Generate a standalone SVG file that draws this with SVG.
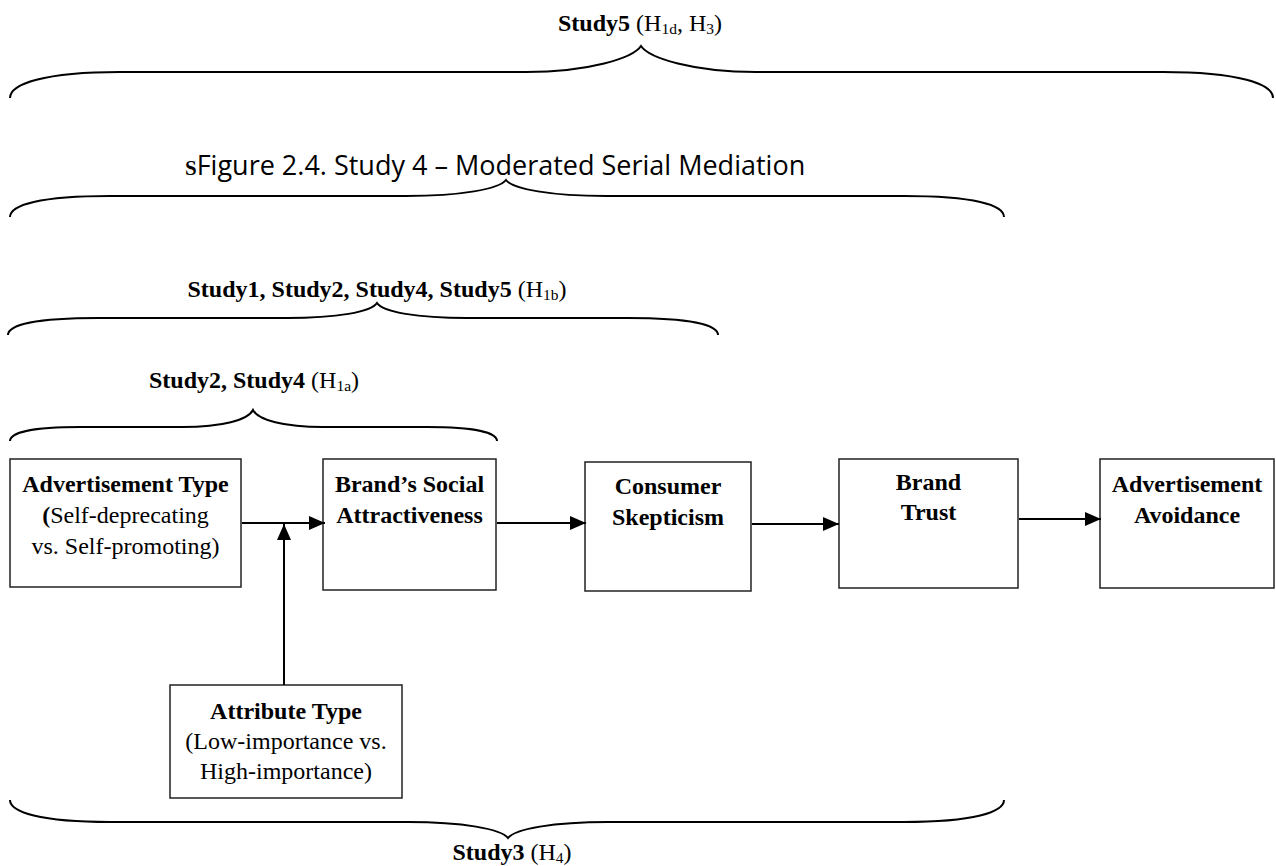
<svg xmlns="http://www.w3.org/2000/svg" width="1276" height="866" viewBox="0 0 1276 866">
<style>
  .t { font-family: "Liberation Serif", "Times New Roman", serif; font-size: 24px; fill: #000; }
  .b { font-weight: bold; }
  .c { text-anchor: middle; }
  .sub { font-size: 15.5px; }
  .box { fill: #fff; stroke: #222; stroke-width: 1.5; }
  .brace { fill: none; stroke: #000; stroke-width: 2; }
  .arr { fill: none; stroke: #000; stroke-width: 2; marker-end: url(#ah); }
  .cap { font-family: "Open Sans", "Noto Sans", sans-serif; font-size: 27px; fill: #000; }
</style>
<defs>
  <marker id="ah" markerUnits="userSpaceOnUse" markerWidth="16" markerHeight="14" refX="16" refY="7" orient="auto">
    <path d="M0,0 L16,7 L0,14 z" fill="#000"/>
  </marker>
</defs>
<rect width="1276" height="866" fill="#fff"/>

<g id="braces">
  <path class="brace" d="M10,98 C10,84 44,72 120,72 L526,72 C589,72 633,58 641,46 C649,58 693,72 756,72 L1163,72 C1239,72 1273,84 1273,98"/>
  <path class="brace" d="M10,217 C10,205 40,196 110,196 L406,196 C461,196 499,189 506,180 C513,189 551,196 606,196 L904,196 C974,196 1004,205 1004,217"/>
  <path class="brace" d="M8,335 C8,325 35,318 98,318 L287,318 C337,318 371,312 377,303 C383,312 417,318 467,318 L628,318 C691,318 718,325 718,335"/>
  <path class="brace" d="M10,441 C10,433 31,427 80,427 L183,427 C222,427 248,420 253,410 C258,420 284,427 323,427 L427,427 C476,427 497,433 497,441"/>
  <path class="brace" d="M10,800 C10,812 40,822 110,822 L408,822 C463,822 501,829 508,838 C515,829 553,822 608,822 L904,822 C974,822 1004,812 1004,800"/>
</g>

<g id="labels">
  <text class="t c" x="640" y="31"><tspan class="b">Study5</tspan> (H<tspan class="sub" dy="3">1d</tspan><tspan dy="-3">, H</tspan><tspan class="sub" dy="3">3</tspan><tspan dy="-3">)</tspan></text>
  <text class="cap" x="185" y="175"><tspan style="font-family:'Liberation Serif',serif;font-weight:bold;font-size:21px">S</tspan>Figure 2.4. Study 4 – Moderated Serial Mediation</text>
  <text class="t c" x="377" y="297"><tspan class="b">Study1, Study2, Study4, Study5</tspan> (H<tspan class="sub" dy="3">1b</tspan><tspan dy="-3">)</tspan></text>
  <text class="t c" x="254" y="388"><tspan class="b">Study2, Study4</tspan> (H<tspan class="sub" dy="3">1a</tspan><tspan dy="-3">)</tspan></text>
  <text class="t c" x="512" y="860"><tspan class="b">Study3</tspan> (H<tspan class="sub" dy="3">4</tspan><tspan dy="-3">)</tspan></text>
</g>

<g id="node-ad-type">
  <rect class="box" x="10" y="459" width="231" height="128"/>
  <text class="t c b" x="125.5" y="492">Advertisement Type</text>
  <text class="t c" x="125.5" y="523"><tspan class="b">(</tspan>Self-deprecating</text>
  <text class="t c" x="125.5" y="554">vs. Self-promoting)</text>
</g>
<g id="node-social">
  <rect class="box" x="323" y="459" width="173" height="131"/>
  <text class="t c b" x="409.5" y="492">Brand’s Social</text>
  <text class="t c b" x="409.5" y="523">Attractiveness</text>
</g>
<g id="node-skepticism">
  <rect class="box" x="585" y="462" width="166" height="129"/>
  <text class="t c b" x="668" y="494">Consumer</text>
  <text class="t c b" x="668" y="525">Skepticism</text>
</g>
<g id="node-trust">
  <rect class="box" x="839" y="459" width="179" height="129"/>
  <text class="t c b" x="928.5" y="490">Brand</text>
  <text class="t c b" x="928.5" y="520">Trust</text>
</g>
<g id="node-avoidance">
  <rect class="box" x="1100" y="459" width="174" height="129"/>
  <text class="t c b" x="1187" y="492">Advertisement</text>
  <text class="t c b" x="1187" y="523">Avoidance</text>
</g>
<g id="node-attribute">
  <rect class="box" x="170" y="685" width="232" height="113"/>
  <text class="t c b" x="286" y="719">Attribute Type</text>
  <text class="t c" x="286" y="749">(Low-importance vs.</text>
  <text class="t c" x="286" y="779">High-importance)</text>
</g>

<g id="connectors">
  <path class="arr" d="M242,523 L325,523"/>
  <path class="arr" d="M497,523 L586,523"/>
  <path class="arr" d="M752,524 L839,524"/>
  <path class="arr" d="M1019,519 L1101,519"/>
  <path class="arr" d="M284,685 L284,524"/>
</g>
</svg>
